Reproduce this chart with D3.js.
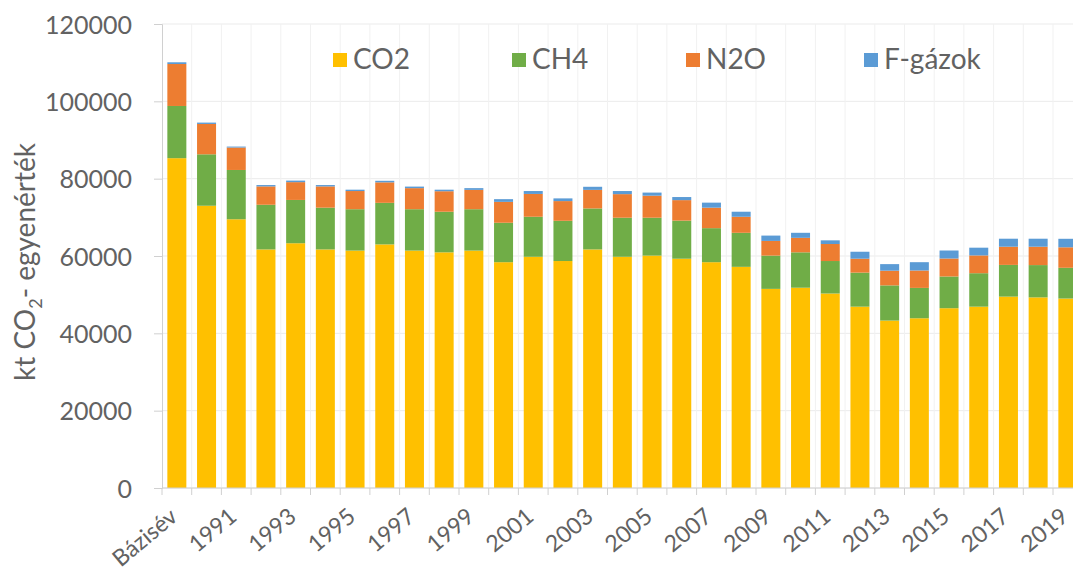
<!DOCTYPE html>
<html>
<head>
<meta charset="utf-8">
<script src="https://cdn.jsdelivr.net/npm/d3@7"></script>
<style>
  body { margin: 0; background: #fff; }
  text { font-family: Lato, "Open Sans", sans-serif; fill: #626262; }
</style>
</head>
<body>
<div id="chart"></div>
<script>
// data (kt CO2-eq)
const categories = ["Bázisév", "1990", "1991", "1992", "1993", "1994", "1995", "1996", "1997", "1998", "1999",
  "2000", "2001", "2002", "2003", "2004", "2005", "2006", "2007", "2008", "2009",
  "2010", "2011", "2012", "2013", "2014", "2015", "2016", "2017", "2018", "2019"];
const co2 = [85300, 73000, 69500, 61700, 63300, 61700, 61400, 63000, 61400, 60950, 61400,
  58400, 59800, 58700, 61700, 59800, 60100, 59300, 58400, 57200, 51500,
  51800, 50300, 46900, 43300, 43900, 46500, 46900, 49500, 49300, 49000];
const ch4 = [13500, 13300, 12750, 11550, 11200, 10800, 10700, 10750, 10700, 10500, 10700,
  10200, 10350, 10400, 10600, 10100, 9800, 9850, 8800, 8800, 8600,
  9150, 8400, 8800, 9100, 7850, 8200, 8650, 8200, 8350, 7950];
const n2o = [10850, 7850, 5800, 4750, 4600, 5500, 4700, 5300, 5450, 5300, 5000,
  5400, 5900, 5100, 4800, 6100, 5700, 5300, 5300, 4150, 3800,
  3750, 4400, 3600, 3800, 4500, 4650, 4600, 4700, 4750, 5300];
const fgas = [450, 350, 250, 350, 400, 350, 350, 400, 400, 400, 450,
  700, 750, 700, 800, 800, 800, 800, 1300, 1300, 1380,
  1300, 950, 1800, 1700, 2150, 2070, 2000, 2070, 2070, 2200];
const seriesNames = ["CO2", "CH4", "N2O", "F-gázok"];
const colors = ["#FFC000", "#70AD47", "#ED7D31", "#5B9BD5"];
const yTicks = [0, 20000, 40000, 60000, 80000, 100000, 120000];

const WIDTH = 1073, HEIGHT = 570;
const plotLeft = 162, plotTop = 24, plotBottom = 488;
const step = 29.7;

const svg = d3.select("#chart").append("svg")
  .attr("width", WIDTH)
  .attr("height", HEIGHT);

const x = d3.scaleBand()
  .domain(categories)
  .range([plotLeft, plotLeft + step * categories.length])
  .paddingInner(0.36)
  .paddingOuter(0.18);

const y = d3.scaleLinear()
  .domain([0, 120000])
  .range([plotBottom, plotTop]);

// table for the stack
const rows = categories.map((c, i) => ({
  cat: c, "CO2": co2[i], "CH4": ch4[i], "N2O": n2o[i], "F-gázok": fgas[i]
}));
const stacked = d3.stack().keys(seriesNames)(rows);

// gridlines
svg.append("g")
  .selectAll("line")
  .data(yTicks)
  .enter()
  .append("line")
  .attr("x1", plotLeft).attr("x2", WIDTH)
  .attr("y1", d => y(d)).attr("y2", d => y(d))
  .attr("stroke", "#ebebeb").attr("stroke-width", 1);

const bounds = categories.map((c, i) => plotLeft + step * (i + 1));
svg.append("g")
  .selectAll("line")
  .data(bounds)
  .enter()
  .append("line")
  .attr("x1", d => d).attr("x2", d => d)
  .attr("y1", plotTop).attr("y2", plotBottom)
  .attr("stroke", "#f1f1f1").attr("stroke-width", 1);

// bars
svg.append("g")
  .selectAll("g")
  .data(stacked)
  .enter()
  .append("g")
  .attr("fill", (d, i) => colors[i])
  .selectAll("rect")
  .data(d => d)
  .enter()
  .append("rect")
  .attr("x", d => x(d.data.cat))
  .attr("width", x.bandwidth())
  .attr("y", d => y(d[1]))
  .attr("height", d => y(d[0]) - y(d[1]));

// y axis
const yAxis = svg.append("g")
  .attr("transform", `translate(${plotLeft},0)`)
  .call(d3.axisLeft(y).tickValues(yTicks).tickFormat(d3.format("d")).tickSize(8).tickPadding(22));
yAxis.select(".domain").attr("stroke", "#d0d0d0");
yAxis.selectAll(".tick line").attr("stroke", "#d0d0d0");
yAxis.selectAll(".tick text")
  .attr("font-size", "25px")
  .attr("fill", "#626262")
  .attr("font-family", "Lato, sans-serif")
  .attr("dy", "0.36em");

// x axis line and tick marks at category boundaries
svg.append("line")
  .attr("x1", plotLeft).attr("x2", WIDTH)
  .attr("y1", plotBottom).attr("y2", plotBottom)
  .attr("stroke", "#d0d0d0");
svg.append("g")
  .selectAll("line")
  .data([plotLeft].concat(bounds))
  .enter()
  .append("line")
  .attr("x1", d => d).attr("x2", d => d)
  .attr("y1", plotBottom).attr("y2", plotBottom + 7)
  .attr("stroke", "#d0d0d0");

// x labels, every second one
svg.append("g")
  .selectAll("text")
  .data(categories.filter((c, i) => i % 2 === 0))
  .enter()
  .append("text")
  .attr("text-anchor", "end")
  .attr("font-size", "23px")
  .attr("transform", d => `translate(${x(d) + x.bandwidth() / 2 + 2},519) rotate(-40)`)
  .text(d => d);

// y axis title with subscript
const title = svg.append("text")
  .attr("text-anchor", "middle")
  .attr("font-size", "28px")
  .attr("transform", "translate(35,262) rotate(-90)");
title.append("tspan").text("kt CO");
title.append("tspan").attr("font-size", "18px").attr("dy", 7).text("2");
title.append("tspan").attr("dy", -7).text("- egyenérték");

// legend
const legendX = [333, 512, 686, 864];
const legend = svg.append("g");
seriesNames.forEach((name, i) => {
  legend.append("rect")
    .attr("x", legendX[i]).attr("y", 53)
    .attr("width", 14).attr("height", 14)
    .attr("fill", colors[i]);
  legend.append("text")
    .attr("x", legendX[i] + 20).attr("y", 69)
    .attr("font-size", "28px")
    .text(name);
});
</script>
</body>
</html>
